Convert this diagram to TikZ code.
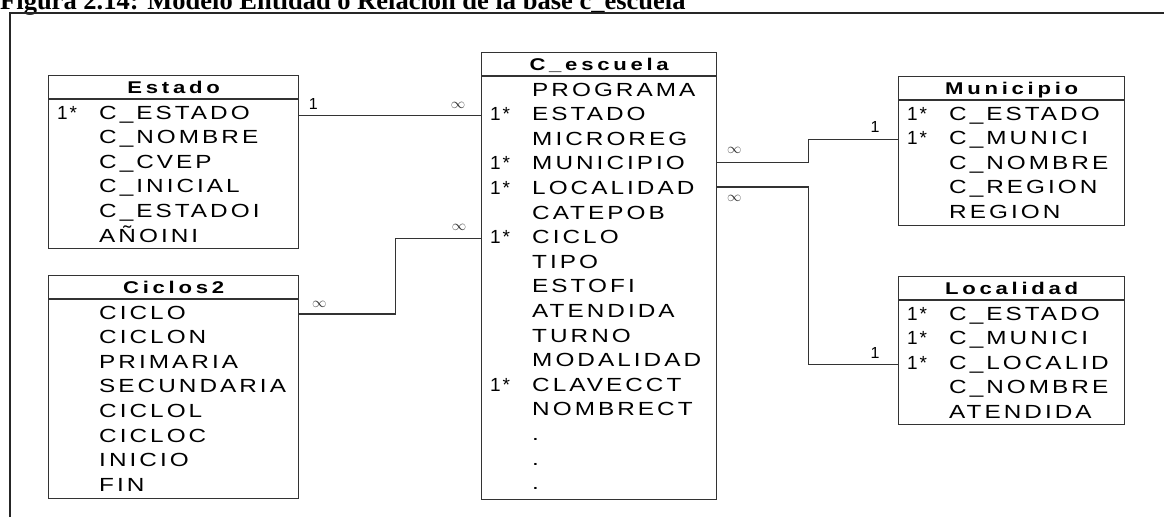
\documentclass[tikz,border=0pt]{standalone}
\usepackage{fontspec}
\setmainfont{Liberation Sans}
\newfontfamily\fldfont[FakeStretch=1.28,LetterSpace=16]{Liberation Sans}
\newfontfamily\ttlfont[FakeStretch=1.3,LetterSpace=22]{Liberation Sans}
\newfontfamily\keyfont[LetterSpace=10]{Liberation Sans}
\newfontfamily\capfont{Liberation Serif}
\usetikzlibrary{calc}
\definecolor{linec}{HTML}{333333}

\tikzset{
  tbl/.style={draw=linec, line width=1.3pt, inner sep=0pt, anchor=north west},
  sepline/.style={draw=linec, line width=1.3pt},
  ttl/.style={inner sep=0pt, anchor=base, font=\ttlfont\bfseries\fontsize{17}{17}\selectfont},
  fld/.style={inner sep=0pt, anchor=base west, font=\fldfont\fontsize{19}{19}\selectfont},
  keyfld/.style={inner sep=0pt, anchor=base west, font=\keyfont\fontsize{19}{19}\selectfont},
  conn/.style={draw=linec, line width=1.3pt},
  onelbl/.style={inner sep=0pt, font=\fontsize{16}{16}\selectfont},
  manylbl/.style={inner sep=0pt, text=linec, font=\fontsize{14.4}{14.4}\selectfont},
  framel/.style={draw=black!85, line width=2pt},
  capt/.style={inner sep=0pt, anchor=base west, font=\capfont\bfseries\fontsize{26.5}{26.5}\selectfont},
}

\newcommand{\ertable}[7]{%
  \node[tbl, minimum width=#4pt, minimum height=#5pt] (#1) at (#2,#3) {};
  \draw[sepline] ([yshift=-24pt]#1.north west) -- ([yshift=-24pt]#1.north east);
  \node[ttl] (#1-title) at ([yshift=-18pt]#1.north) {#6};
  \foreach \k/\f [count=\i from 0] in {#7} {
    \coordinate (#1-r\i) at ($(#1.north west)+(0,39+\i*24.6)$);
    \node[keyfld] (#1-k\i) at ($(#1-r\i)+(9,5)$) {\k};
    \node[fld] (#1-f\i) at ($(#1-r\i)+(51,5)$) {\f};
  }
}

\begin{document}
\begin{tikzpicture}[x=1pt,y=-1pt]
\useasboundingbox (0,0) rectangle (1164,517);

% caption and frame
\node[capt] (caption) at (0,9) {Figura 2.14: Modelo Entidad o Relación de la base c\_escuela};
\coordinate (fr-bl) at (10,517);
\coordinate (fr-tl) at (10,13);
\coordinate (fr-tr) at (1164,13);
\draw[framel] (fr-bl) -- (fr-tl) -- (fr-tr);

% tables
\ertable{estado}{48}{75}{250}{173}{Estado}{1*/C\_ESTADO,{}/C\_NOMBRE,{}/C\_CVEP,{}/C\_INICIAL,{}/C\_ESTADOI,{}/AÑOINI}
\ertable{ciclos}{48}{275}{250}{223}{Ciclos2}{{}/CICLO,{}/CICLON,{}/PRIMARIA,{}/SECUNDARIA,{}/CICLOL,{}/CICLOC,{}/INICIO,{}/FIN}
\ertable{esc}{481}{52}{235}{447}{C\_escuela}{{}/PROGRAMA,1*/ESTADO,{}/MICROREG,1*/MUNICIPIO,1*/LOCALIDAD,{}/CATEPOB,1*/CICLO,{}/TIPO,{}/ESTOFI,{}/ATENDIDA,{}/TURNO,{}/MODALIDAD,1*/CLAVECCT,{}/NOMBRECT,{}/.,{}/.,{}/.}
\ertable{mun}{898}{76}{226}{149}{Municipio}{1*/C\_ESTADO,1*/C\_MUNICI,{}/C\_NOMBRE,{}/C\_REGION,{}/REGION}
\ertable{loc}{898}{276}{226}{148}{Localidad}{1*/C\_ESTADO,1*/C\_MUNICI,1*/C\_LOCALID,{}/C\_NOMBRE,{}/ATENDIDA}

% connectors
\coordinate (estE) at (estado.east |- esc-r1);
\draw[conn] (estE) -- (esc-r1);
\node[onelbl] at ($(estE)+(14,-11.6)$) {1};
\node[manylbl] at ($(esc-r1)+(-23,-10.6)$) {$\infty$};

\coordinate (cicE) at (ciclos-r0 -| ciclos.east);
\draw[conn] (cicE) -- ++(96,0) |- (esc-r6);
\node[manylbl] at ($(cicE)+(20,-10)$) {$\infty$};
\node[manylbl] at ($(esc-r6)+(-22,-11.6)$) {$\infty$};

\coordinate (escM) at ($(esc-r3 -| esc.east)+(0,-2.5)$);
\draw[conn] (escM) -- ++(91,0) |- (mun-r1);
\node[manylbl] at ($(escM)+(17,-12)$) {$\infty$};
\node[onelbl] at ($(mun-r1)+(-23,-12.6)$) {1};

\coordinate (escL) at ($(esc-r4 -| esc.east)+(0,-2.5)$);
\draw[conn] (escL) -- ++(91,0) |- (loc-r2);
\node[manylbl] at ($(escL)+(17,11)$) {$\infty$};
\node[onelbl] at ($(loc-r2)+(-23,-11.2)$) {1};
\end{tikzpicture}
\end{document}
